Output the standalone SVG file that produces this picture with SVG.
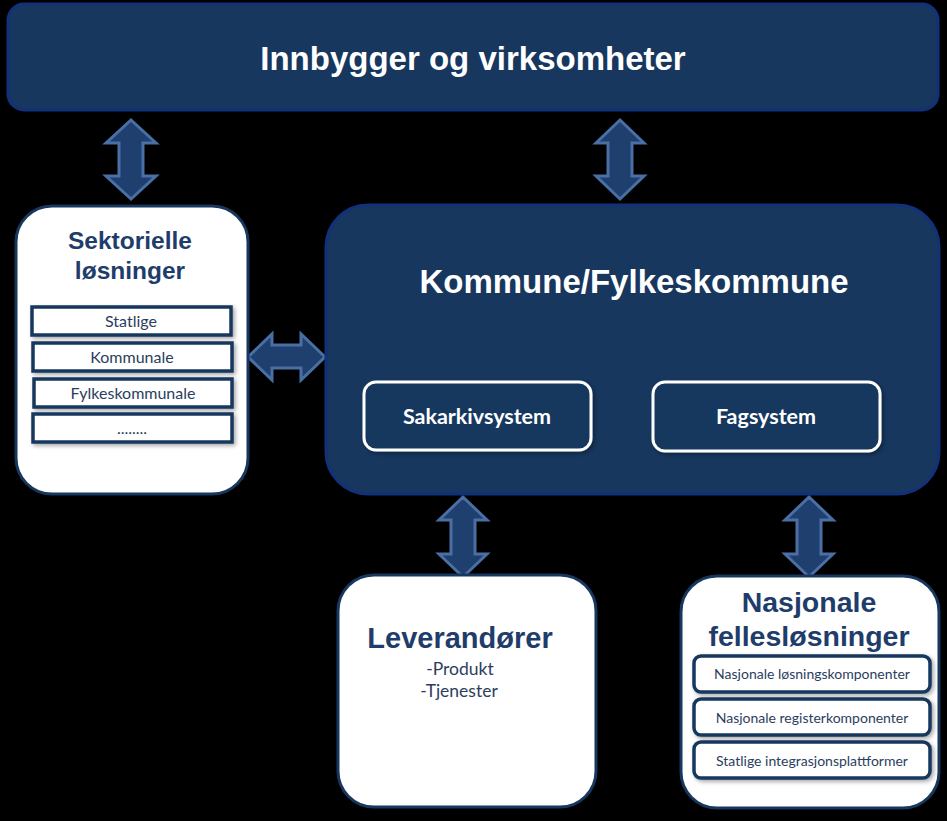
<svg xmlns="http://www.w3.org/2000/svg" width="947" height="821" viewBox="0 0 947 821">
<defs>
<style>
.dark{fill:#17375e;stroke:#13307a;stroke-width:3}
.white{fill:#ffffff;stroke:#17375e;stroke-width:3}
.sub{fill:#ffffff;stroke:#17375e;stroke-width:3.5}
.inner{fill:#17375e;stroke:#ffffff;stroke-width:3}
.arrow{fill:#1f3f6e;stroke:#4a6fa5;stroke-width:3;stroke-linejoin:miter}
.tw{font-family:"Liberation Sans",Arial,sans-serif;font-weight:bold;fill:#ffffff;text-anchor:middle}
.tb{font-family:"Liberation Sans",Arial,sans-serif;font-weight:bold;fill:#1f3d6b;text-anchor:middle}
.ts{font-family:Lato,"Open Sans",sans-serif;fill:#2b3e5e;text-anchor:middle}
.ti{font-family:Lato,"Open Sans",sans-serif;font-weight:bold;fill:#ffffff;text-anchor:middle;font-size:21.5px}
</style>
<filter id="sh" x="-10%" y="-10%" width="130%" height="140%">
<feDropShadow dx="2" dy="2" stdDeviation="2" flood-color="#000" flood-opacity="0.35"/>
</filter>
</defs>
<rect x="0" y="0" width="947" height="821" fill="#000000"/>

<g id="connectors">
<path class="arrow" d="M131 120 L156 143 L143 143 L143 176 L156 176 L131 199 L106 176 L119 176 L119 143 L106 143 Z"/>
<path class="arrow" d="M620 120 L644 143 L632 143 L632 176 L644 176 L620 199 L596 176 L608 176 L608 143 L596 143 Z"/>
<path class="arrow" d="M248 357 L272 334 L272 345 L301 345 L301 334 L325 357 L301 380 L301 368 L272 368 L272 380 Z"/>
<path class="arrow" d="M463 497 L487 520 L475 520 L475 554 L487 554 L463 577 L439 554 L451 554 L451 520 L439 520 Z"/>
<path class="arrow" d="M809 497 L833 520 L821 520 L821 554 L833 554 L809 577 L785 554 L797 554 L797 520 L785 520 Z"/>
</g>

<g id="innbygger">
<rect class="dark" x="8" y="4" width="930" height="106" rx="16"/>
<text class="tw" x="473" y="70" font-size="33">Innbygger og virksomheter</text>
</g>

<g id="sektorielle">
<rect class="white" x="16" y="206" width="232" height="288" rx="36"/>
<text class="tb" x="130" y="249" font-size="24.5">Sektorielle</text>
<text class="tb" x="130" y="279" font-size="24.5">løsninger</text>
<rect class="sub" x="32" y="307" width="199" height="28" filter="url(#sh)"/>
<text class="ts" x="131" y="327" font-size="16">Statlige</text>
<rect class="sub" x="33" y="343" width="199" height="28" filter="url(#sh)"/>
<text class="ts" x="132" y="363" font-size="16">Kommunale</text>
<rect class="sub" x="34" y="379" width="198" height="28" filter="url(#sh)"/>
<text class="ts" x="133" y="399" font-size="16">Fylkeskommunale</text>
<rect class="sub" x="33" y="414" width="199" height="28" filter="url(#sh)"/>
<text class="ts" x="132" y="434" font-size="16">........</text>
</g>

<g id="kommune">
<rect class="dark" x="326" y="205" width="613" height="289" rx="42"/>
<text class="tw" x="634" y="293" font-size="33">Kommune/Fylkeskommune</text>
<g id="sakarkivsystem">
<rect class="inner" x="364" y="382" width="227" height="68" rx="12" filter="url(#sh)"/>
<text class="ti" x="477" y="424">Sakarkivsystem</text>
</g>
<g id="fagsystem">
<rect class="inner" x="653" y="382" width="227" height="69" rx="12" filter="url(#sh)"/>
<text class="ti" x="766" y="424">Fagsystem</text>
</g>
</g>

<g id="leverandorer">
<rect class="white" x="338" y="575" width="258" height="232" rx="36"/>
<text class="tb" x="460" y="648" font-size="29">Leverandører</text>
<text class="ts" x="460" y="675" font-size="17.5">-Produkt</text>
<text class="ts" x="459" y="697" font-size="17.5">-Tjenester</text>
</g>

<g id="nasjonale">
<rect class="white" x="681" y="576" width="258" height="232" rx="36"/>
<text class="tb" x="809" y="612" font-size="28.5">Nasjonale</text>
<text class="tb" x="809" y="646" font-size="28.5">fellesløsninger</text>
<rect class="sub" x="694" y="656" width="236" height="36" rx="7" filter="url(#sh)"/>
<text class="ts" x="812" y="679" font-size="14">Nasjonale løsningskomponenter</text>
<rect class="sub" x="694" y="699" width="236" height="36" rx="7" filter="url(#sh)"/>
<text class="ts" x="812" y="723" font-size="14">Nasjonale registerkomponenter</text>
<rect class="sub" x="694" y="742" width="236" height="36" rx="7" filter="url(#sh)"/>
<text class="ts" x="812" y="766" font-size="14">Statlige integrasjonsplattformer</text>
</g>
</svg>
